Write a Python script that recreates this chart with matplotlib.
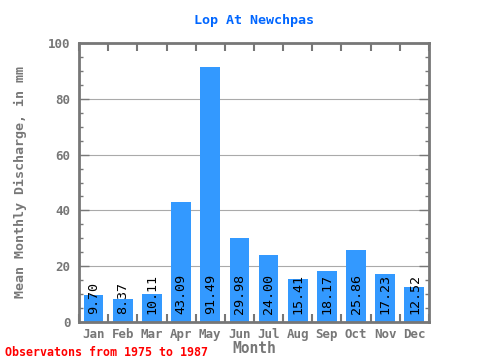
import matplotlib
matplotlib.use('Agg')
import matplotlib.pyplot as plt
import numpy as np

months = ['Jan', 'Feb', 'Mar', 'Apr', 'May', 'Jun', 'Jul', 'Aug', 'Sep', 'Oct', 'Nov', 'Dec']
discharge = [9.70, 8.37, 10.11, 43.09, 91.49, 29.98, 24.00, 15.41, 18.17, 25.86, 17.23, 12.52]

plt.rcParams['font.family'] = 'DejaVu Sans Mono'
gray = '#777777'

fig = plt.figure(figsize=(4.8, 3.6), dpi=100)
ax = fig.add_axes([79/480, 1-322/360, 350/480, 279/360])

x = np.arange(len(months))
ax.bar(x, discharge, width=0.68, color='#3399ff', zorder=2)
for xi, v in zip(x, discharge):
    ax.text(xi, 3.0, '%.2f' % v, rotation=90, ha='center', va='bottom',
            fontsize=9.6, color='black', zorder=3)

ax.set_xlim(-0.5, 11.5)
ax.set_ylim(0, 100)
ax.set_xticks(x)
ax.set_xticklabels(months)
ax.set_xticks(np.arange(-0.5, 12, 1), minor=True)
ax.set_yticks(np.arange(0, 101, 20))
ax.set_yticks(np.arange(0, 101, 5), minor=True)
ax.yaxis.grid(True, color='#aaaaaa', linewidth=0.8, zorder=0)

ax.tick_params(axis='x', which='major', length=0, pad=4, labelsize=9, labelcolor=gray)
ax.tick_params(axis='x', which='minor', direction='in', length=6, width=1.5, color=gray,
               top=True, bottom=True)
ax.tick_params(axis='y', which='major', direction='in', length=7, width=1, color=gray,
               left=True, right=True, labelsize=9, labelcolor=gray, pad=6)
ax.tick_params(axis='y', which='minor', direction='in', length=3, width=1, color=gray,
               left=True, right=True)
for lbl in ax.get_xticklabels() + ax.get_yticklabels():
    lbl.set_fontweight('bold')
for sp in ax.spines.values():
    sp.set_color(gray)
    sp.set_linewidth(2)

ax.set_title('Lop At Newchpas', color='#0066ff', fontsize=9.6, fontweight='bold', pad=14)
ax.set_xlabel('Month', color=gray, fontsize=10.5, fontweight='bold', labelpad=0)
ax.set_ylabel('Mean Monthly Discharge, in mm', color=gray, fontsize=9.6, fontweight='bold', labelpad=15)
fig.text(5/480, 1-352/360, 'Observatons from 1975 to 1987', color='red', fontsize=8.4,
         fontweight='bold', va='center', ha='left')

fig.savefig('out.png', dpi=100)
